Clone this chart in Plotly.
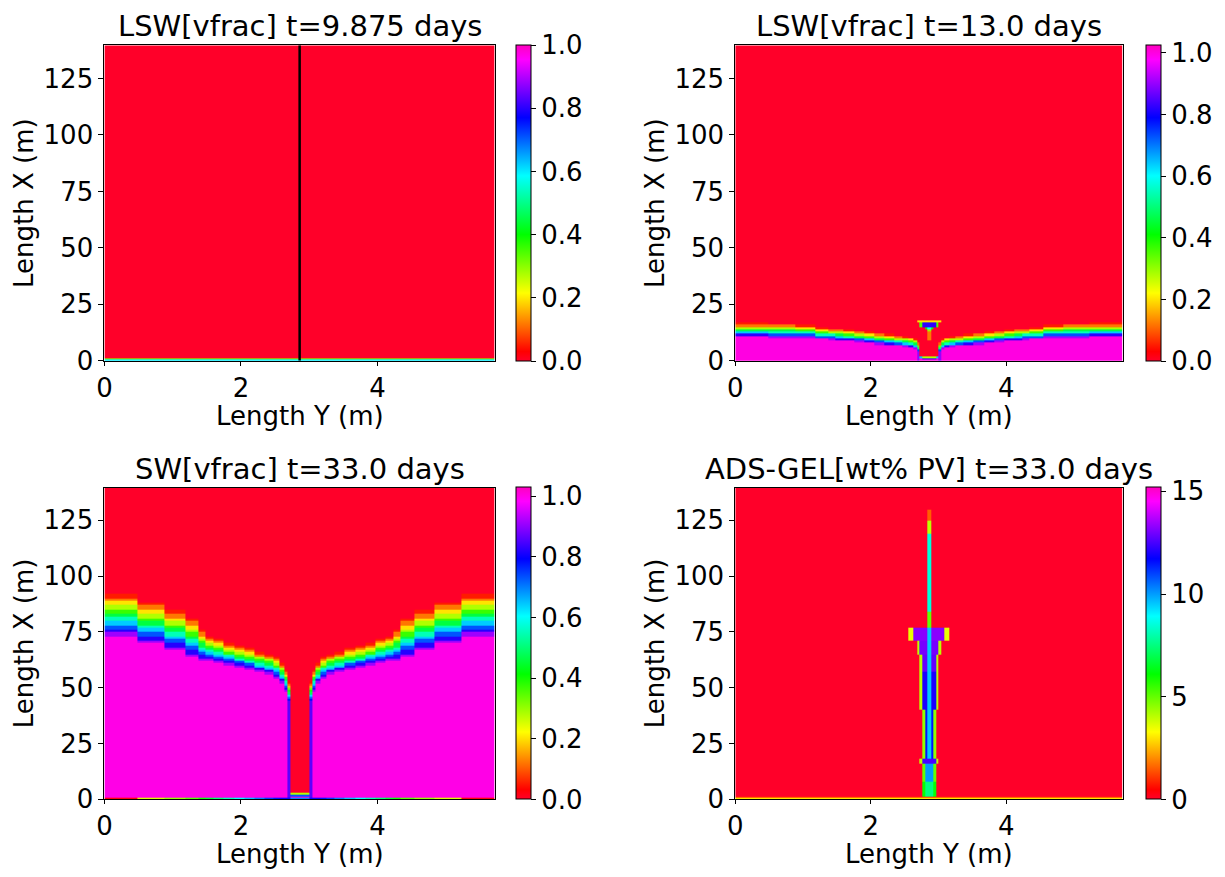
import numpy as np
import plotly.graph_objects as go

FIG_W, FIG_H = 1225, 877

# ---------------- text / axes ----------------
TITLES = ["LSW[vfrac] t=9.875 days", "LSW[vfrac] t=13.0 days",
          "SW[vfrac] t=33.0 days", "ADS-GEL[wt% PV] t=33.0 days"]
X_LABEL = "Length Y (m)"
Y_LABEL = "Length X (m)"
X_TICKS = [0, 2, 4]
Y_TICKS = [0, 25, 50, 75, 100, 125]
CBAR_TICKS = [[0, 0.2, 0.4, 0.6, 0.8, 1.0]] * 3 + [[0, 5, 10, 15]]
CBAR_FORMAT = [".1f", ".1f", ".1f", "d"]
CBAR_MAX = [1.0, 1.025, 1.029, 15.19]
LEN_Y = 5.72      # horizontal extent (Length Y)
LEN_X = 139.66    # vertical extent (Length X)

# ---------------- simulation grid ----------------
FRACTURE_Y = 2.86
Y_EDGES_LEFT = [0, 0.49, 0.88, 1.18, 1.38, 1.48, 1.60, 1.75, 1.90, 2.05, 2.20,
                2.35, 2.47, 2.56, 2.63, 2.68, 2.72, 2.76, 2.80, 2.83, 2.86]
X_EDGES = [0.0, 0.5] + [float(v) for v in range(1, 140)] + [LEN_X]

# ---------------- water fronts (per left-half column, mirrored) -------------
# top of transition band (fully red above), bottom (full value below)
LSW13_TOP = [16.8, 16.3, 15.8, 15.0, 14.5, 14.2, 13.8, 13.3, 12.8, 12.3,
             11.8, 11.4, 11.0, 10.6, 10.0, 8.5, 2.5, 2.0, 2.0, 2.0]
LSW13_BOT = [10.5, 10.2, 9.8, 9.3, 9.0, 8.7, 8.4, 8.0, 7.6, 7.1,
             6.7, 6.3, 5.9, 5.5, 5.0, 3.5, 1.0, 0.5, 0.5, 0.5]
LSW13_FILL = [1.0] * 15 + [0.9, 1.0, 1.0, 1.0, 1.0]

SW33_TOP = [93.0, 89.0, 85.5, 82.0, 76.5, 73.5, 72.0, 70.5, 69.0, 68.0,
            66.5, 65.5, 64.0, 61.5, 58.5, 53.0, 3.2, 3.2, 3.2, 3.2]
SW33_BOT = [72.0, 69.0, 66.0, 63.0, 61.5, 61.0, 60.5, 59.5, 58.5, 57.5,
            56.5, 55.5, 54.0, 51.5, 48.0, 44.0, 1.0, 1.0, 1.0, 1.0]
SW33_FILL = [1.0] * 15 + [0.86, 1.0, 1.0, 1.0, 1.0]
SW33_BOTTOM_ROW = [0.02, 0.25, 0.3, 0.35, 0.4, 0.45, 0.5, 0.55, 0.6, 0.65,
                   0.7, 0.75, 0.78, 0.8, 0.8, 0.8, 0.7, 0.7, 0.7, 0.7]

# colour levels across a front band (red side -> full side)
BAND_LEVELS = [0.0, 0.05, 0.12, 0.2, 0.28, 0.37, 0.46, 0.55, 0.64, 0.73, 0.82, 0.91, 1.0]

LSW9_BOTTOM_ROWS = [0.6, 0.3]   # rows 0-0.5 m and 0.5-1.0 m

# patches around the fracture: x range, half width, core / edge value
LSW13_P_XLO = [9.0, 13.0, 14.0, 15.0, 17.0]
LSW13_P_XHI = [13.0, 14.0, 15.0, 17.0, 18.0]
LSW13_P_HW = [0.03, 0.03, 0.07, 0.145, 0.17]
LSW13_P_CORE = [0.12, 0.3, 0.6, 0.82, 0.2]
LSW13_P_EDGE = [0.12, 0.3, 0.4, 0.35, 0.2]

GEL_XLO = [1.0, 8.0, 16.0, 18.0, 40.0, 57.0, 65.0, 71.0, 77.0, 84.0, 119.0, 125.0]
GEL_XHI = [8.0, 16.0, 18.0, 40.0, 57.0, 65.0, 71.0, 77.0, 84.0, 119.0, 125.0, 130.0]
GEL_HW = [0.10, 0.10, 0.12, 0.10, 0.12, 0.15, 0.20, 0.28, 0.035, 0.035, 0.035, 0.035]
GEL_CORE = [7.5, 10.0, 12.5, 11.5, 12.0, 12.8, 13.0, 13.2, 5.0, 8.5, 4.0, 1.5]
GEL_EDGE = [6.0, 5.0, 4.0, 4.5, 4.0, 4.0, 4.0, 3.5, 5.0, 8.5, 4.0, 1.5]
GEL_MID = [None, None, None, 9.5, 9.5, 9.5, 9.5, 9.5, None, None, None, None]
GEL_BOTTOM_ROWS = [3.0, 1.0]

# matplotlib gist_rainbow
CMAP = [[0.000, "rgb(255,0,41)"], [0.030, "rgb(255,0,0)"], [0.215, "rgb(255,255,0)"],
        [0.400, "rgb(0,255,0)"], [0.586, "rgb(0,255,255)"], [0.770, "rgb(0,0,255)"],
        [0.954, "rgb(255,0,255)"], [1.000, "rgb(255,0,191)"]]

# ---------------- build grid ----------------
y_edges = list(Y_EDGES_LEFT) + [2 * FRACTURE_Y - e for e in reversed(Y_EDGES_LEFT[:-1])]
y_edges = np.array(y_edges)
x_edges = np.array(X_EDGES)
yc = 0.5 * (y_edges[1:] + y_edges[:-1])
xc = 0.5 * (x_edges[1:] + x_edges[:-1])
ncol, nrow = len(yc), len(xc)
dist = np.abs(yc - FRACTURE_Y)


def mirror(a):
    return list(a) + list(a)[::-1]


def front_field(top_l, bot_l, fill_l):
    top, bot, fill = mirror(top_l), mirror(bot_l), mirror(fill_l)
    z = np.zeros((nrow, ncol))
    n = len(BAND_LEVELS)
    for j in range(ncol):
        for i in range(nrow):
            x = xc[i]
            if x <= bot[j]:
                z[i, j] = fill[j]
            elif x >= top[j]:
                z[i, j] = 0.0
            else:
                f = (top[j] - x) / (top[j] - bot[j])
                z[i, j] = BAND_LEVELS[int(round(f * (n - 1)))] * fill[j]
    return z


def apply_patches(z, xlo, xhi, hw, core, edge, mid=None):
    for k in range(len(xlo)):
        rows = [i for i in range(nrow) if xlo[k] <= xc[i] < xhi[k]]
        cols = [j for j in range(ncol) if dist[j] < hw[k]]
        cset = set(cols)
        for j in cols:
            outer = (j - 1 not in cset) or (j + 1 not in cset)
            v = edge[k] if outer else core[k]
            if mid is not None and mid[k] is not None and dist[j] < 0.03:
                v = mid[k]
            for i in rows:
                z[i, j] = v
    return z


# panel 1
z1 = np.zeros((nrow, ncol))
for r, v in enumerate(LSW9_BOTTOM_ROWS):
    z1[r, :] = v
# panel 2
z2 = front_field(LSW13_TOP, LSW13_BOT, LSW13_FILL)
z2 = apply_patches(z2, LSW13_P_XLO, LSW13_P_XHI, LSW13_P_HW, LSW13_P_CORE, LSW13_P_EDGE)
# panel 3
z3 = front_field(SW33_TOP, SW33_BOT, SW33_FILL)
z3[0, :] = mirror(SW33_BOTTOM_ROW)
# panel 4
z4 = np.zeros((nrow, ncol))
z4 = apply_patches(z4, GEL_XLO, GEL_XHI, GEL_HW, GEL_CORE, GEL_EDGE, GEL_MID)
for r, v in enumerate(GEL_BOTTOM_ROWS):
    z4[r, :] = v

Z = [z1, z2, z3, z4]

# ---------------- layout (pixels) ----------------
AX_X = [(89, 482), (724, 1114), (89, 482), (724, 1114)]
AX_Y = [(38, 359), (38, 359), (488, 805), (488, 805)]
CB_X = [503, 1137, 503, 1137]
XLABEL_GAP = 55   # px from axis bottom to x-label centre

FONT = "DejaVu Sans"
TICK_SIZE = 26
LABEL_SIZE = 26
TITLE_SIZE = 29

fig = go.Figure()
annotations = []
layout = {}
for k in range(4):
    ax = "" if k == 0 else str(k + 1)
    x0, x1 = AX_X[k]
    y0, y1 = AX_Y[k]
    dx = [x0 / FIG_W, x1 / FIG_W]
    dy = [1 - y1 / FIG_H, 1 - y0 / FIG_H]
    fig.add_trace(go.Heatmap(
        x=y_edges, y=x_edges, z=Z[k], colorscale=CMAP, zmin=0, zmax=CBAR_MAX[k],
        zsmooth=False, hoverinfo="skip", xaxis="x" + ax, yaxis="y" + ax,
        colorbar=dict(x=CB_X[k] / FIG_W, xanchor="left", y=(dy[0] + dy[1]) / 2,
                      yanchor="middle", len=dy[1] - dy[0], lenmode="fraction",
                      thickness=15, thicknessmode="pixels", xpad=0, ypad=0,
                      outlinewidth=1, outlinecolor="black",
                      ticks="outside", ticklen=5, tickwidth=1, tickcolor="black",
                      tickvals=CBAR_TICKS[k], tickformat=CBAR_FORMAT[k],
                      tickfont=dict(family=FONT, size=TICK_SIZE, color="black")),
    ))
    layout["xaxis" + ax] = dict(
        domain=dx, range=[0, LEN_Y], anchor="y" + ax, tickvals=X_TICKS,
        ticks="outside", ticklen=4, tickwidth=1, tickcolor="black",
        showline=True, mirror=True, linecolor="black", linewidth=1,
        showgrid=False, zeroline=False,
        tickfont=dict(family=FONT, size=TICK_SIZE, color="black"))
    layout["yaxis" + ax] = dict(
        domain=dy, range=[0, LEN_X], anchor="x" + ax, tickvals=Y_TICKS,
        ticks="outside", ticklen=5, tickwidth=1, tickcolor="black",
        showline=True, mirror=True, linecolor="black", linewidth=1,
        showgrid=False, zeroline=False,
        tickfont=dict(family=FONT, size=TICK_SIZE, color="black"),
        title=dict(text=Y_LABEL, font=dict(family=FONT, size=LABEL_SIZE, color="black"),
                   standoff=2))
    annotations.append(dict(text=TITLES[k], x=(dx[0] + dx[1]) / 2, y=dy[1],
                            xref="paper", yref="paper", xanchor="center", yanchor="bottom",
                            yshift=0, showarrow=False,
                            font=dict(family=FONT, size=TITLE_SIZE, color="black")))
    annotations.append(dict(text=X_LABEL, x=(dx[0] + dx[1]) / 2, y=dy[0],
                            xref="paper", yref="paper", xanchor="center", yanchor="middle",
                            yshift=-XLABEL_GAP, showarrow=False, borderpad=0,
                            font=dict(family=FONT, size=LABEL_SIZE, color="black")))

# fracture line in first panel
fig.add_trace(go.Scatter(x=[FRACTURE_Y, FRACTURE_Y], y=[0, LEN_X], mode="lines",
                         line=dict(color="black", width=2.5), showlegend=False,
                         hoverinfo="skip", xaxis="x", yaxis="y"))

fig.update_layout(width=FIG_W, height=FIG_H, margin=dict(l=0, r=0, t=0, b=0),
                  paper_bgcolor="white", plot_bgcolor="white", showlegend=False,
                  annotations=annotations, **layout)
fig.write_html("out.html")
